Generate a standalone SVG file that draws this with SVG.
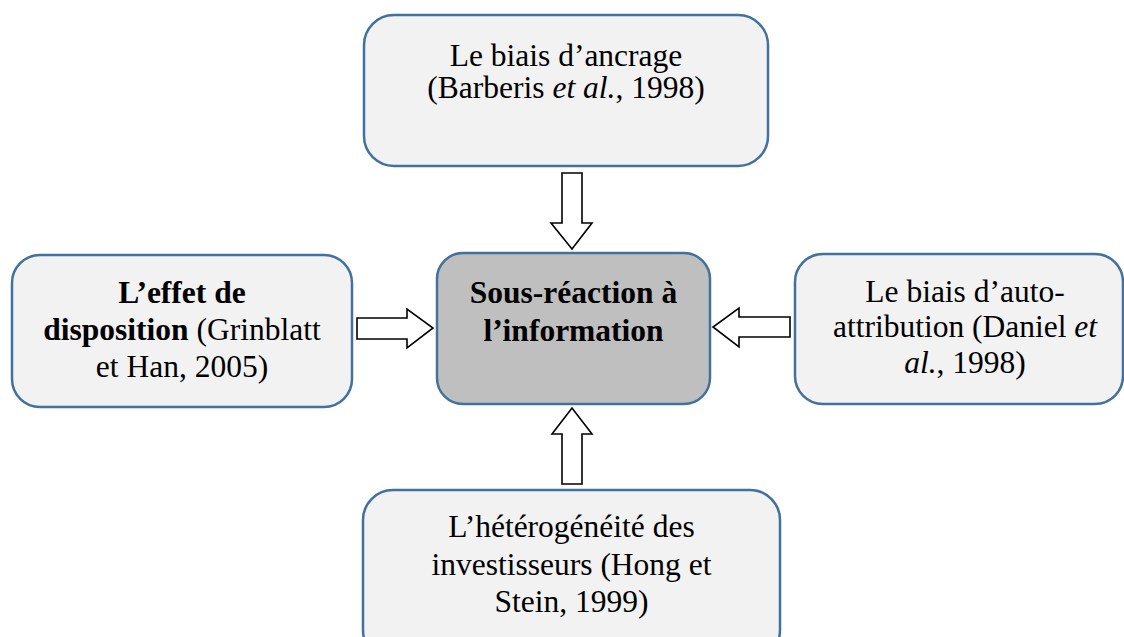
<svg xmlns="http://www.w3.org/2000/svg" width="1124" height="637" viewBox="0 0 1124 637">
<style>
.box{fill:#F2F2F2;stroke:#41719C;stroke-width:2.5}
.core{fill:#BFBFBF;stroke:#41719C;stroke-width:2.5}
.arr{fill:#FFFFFF;stroke:#000000;stroke-width:1.6;stroke-linejoin:miter}
.t{font-family:'Liberation Serif','Times New Roman','DejaVu Serif',serif;font-size:31.5px;fill:#000000;text-anchor:middle}
.b{font-weight:bold}
.i{font-style:italic}
</style>
<rect width="1124" height="637" fill="#FFFFFF"/>
<g id="connectors">
<polygon class="arr" points="562,173 582,173 582,223 592,223 572,249 551,223 562,223"/>
<polygon class="arr" points="357,318 407,318 407,309 433,328 407,348 407,339 357,339"/>
<polygon class="arr" points="790,317 739,317 739,308 713,327 739,347 739,337 790,337"/>
<polygon class="arr" points="562,484 582,484 582,434 592,434 572,408 552,434 562,434"/>
</g>
<g id="node-top">
<rect class="box" x="364" y="15" width="404" height="151" rx="30"/>
<g class="t" font-family="Liberation Serif, Times New Roman, serif">
<text x="566" y="66">Le biais d’ancrage</text>
<text x="566" y="98">(Barberis <tspan class="i">et al.</tspan>, 1998)</text>
</g>
</g>
<g id="node-center">
<rect class="core" x="437" y="253" width="273" height="151" rx="26"/>
<g class="t b" font-family="Liberation Serif, Times New Roman, serif">
<text x="573.5" y="303">Sous-réaction à</text>
<text x="573.5" y="341">l’information</text>
</g>
</g>
<g id="node-left">
<rect class="box" x="12" y="255" width="340" height="152" rx="28"/>
<g class="t" font-family="Liberation Serif, Times New Roman, serif">
<text class="b" x="182" y="303">L’effet de</text>
<text x="182" y="340"><tspan class="b">disposition</tspan> (Grinblatt</text>
<text x="182" y="377">et Han, 2005)</text>
</g>
</g>
<g id="node-right">
<rect class="box" x="795" y="254" width="328" height="150" rx="28"/>
<g class="t" font-family="Liberation Serif, Times New Roman, serif">
<text x="965" y="302">Le biais d’auto-</text>
<text x="965" y="337">attribution (Daniel <tspan class="i">et</tspan></text>
<text x="965" y="373"><tspan class="i">al.</tspan>, 1998)</text>
</g>
</g>
<g id="node-bottom">
<rect class="box" x="363" y="490" width="417" height="170" rx="30"/>
<g class="t" font-family="Liberation Serif, Times New Roman, serif">
<text x="571.5" y="537">L’hétérogénéité des</text>
<text x="571.5" y="575">investisseurs (Hong et</text>
<text x="571.5" y="612">Stein, 1999)</text>
</g>
</g>
</svg>
